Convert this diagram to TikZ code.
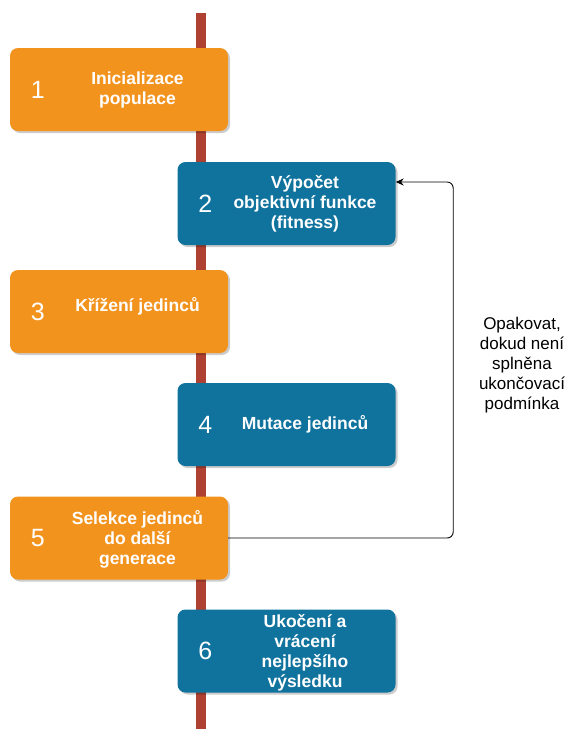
\documentclass[tikz,border=0pt]{standalone}
\usepackage{fontspec}
\setmainfont{Liberation Sans}
\usetikzlibrary{arrows.meta,shadows}
\definecolor{oranzova}{HTML}{F2931E}
\definecolor{modra}{HTML}{10739E}
\definecolor{cervena}{HTML}{AE4132}
\begin{document}
\begin{tikzpicture}[x=1pt,y=-1pt,
  box/.style={rounded corners=8pt,minimum width=218pt,minimum height=83pt,inner sep=0pt,
    drop shadow={shadow xshift=2pt,shadow yshift=-2pt,opacity=0.2,fill=black}},
  cislo/.style={text=white,font=\fontsize{25}{30}\selectfont},
  popis/.style={text=white,font=\fontsize{17.5}{20}\selectfont\bfseries,align=center},
  spojka/.style={draw=black,line width=0.9pt,rounded corners=6pt,
    -{Stealth[length=8pt,width=7pt]}}]
  \useasboundingbox (0,0) rectangle (566,729);
  \def\krok(#1,#2,#3)[#4]#5#6{%
    \node[box,fill=#4] (k#5) at (#1,#2) {};
    \node[cislo] (c#5) at ([xshift=28pt]k#5.west) {#5};
    \node[popis] (t#5) at (#1+18.5,#3) {#6};
  }
  % osa
  \fill[cervena] (196,13) rectangle (206,729);

  \krok(119,89.5,90)[oranzova]{1}{Inicializace\\populace}
  \krok(286.5,203.5,203.5)[modra]{2}{Výpočet\\objektivní funkce\\(fitness)}
  \krok(119,311.5,306)[oranzova]{3}{Křížení jedinců}
  \krok(286.5,424.5,424)[modra]{4}{Mutace jedinců}
  \krok(119,538,539)[oranzova]{5}{Selekce jedinců\\do další\\generace}
  \krok(286.5,651,653)[modra]{6}{Ukočení a\\vrácení\\nejlepšího\\výsledku}

  \draw[spojka] (k5.east) -- ++(225,0) |- ([yshift=21.5pt]k2.east);
  \node[font=\fontsize{17}{20}\selectfont,align=center] (opak) at (522,365)
    {Opakovat,\\dokud není\\splněna\\ukončovací\\podmínka};
\end{tikzpicture}
\end{document}
